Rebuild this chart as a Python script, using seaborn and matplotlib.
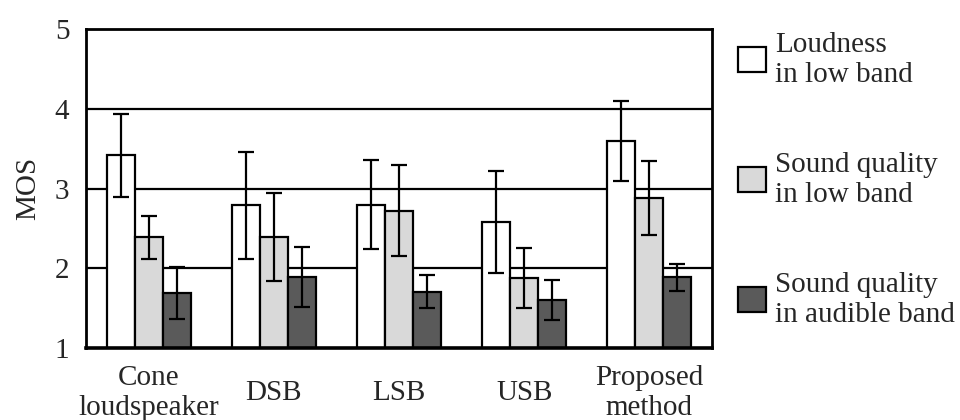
import matplotlib
matplotlib.use("Agg")
import matplotlib.pyplot as plt
import seaborn as sns
import pandas as pd
import numpy as np
from matplotlib.patches import Patch

systems = ["Cone\nloudspeaker", "DSB", "LSB", "USB", "Proposed\nmethod"]
criteria = ["Loudness\nin low band", "Sound quality\nin low band", "Sound quality\nin audible band"]

loudness_low = [3.42, 2.79, 2.80, 2.58, 3.60]
quality_low = [2.39, 2.39, 2.72, 1.88, 2.88]
quality_audible = [1.69, 1.89, 1.71, 1.60, 1.89]

loudness_low_err = [0.52, 0.67, 0.56, 0.64, 0.50]
quality_low_err = [0.27, 0.55, 0.57, 0.38, 0.46]
quality_audible_err = [0.33, 0.38, 0.21, 0.25, 0.17]

colors = ["#ffffff", "#d9d9d9", "#5a5a5a"]

means = [loudness_low, quality_low, quality_audible]
errs = [loudness_low_err, quality_low_err, quality_audible_err]

rows = []
for crit, vals in zip(criteria, means):
    for sys_name, v in zip(systems, vals):
        rows.append({"system": sys_name, "criterion": crit, "MOS": v})
df = pd.DataFrame(rows)

sns.set_style("white")
plt.rcParams["font.family"] = ["Liberation Serif", "DejaVu Serif"]
plt.rcParams["font.size"] = 21

fig = plt.figure(figsize=(9.6, 4.2), dpi=100)
ax = fig.add_axes([0.0896, 0.171, 0.652, 0.760])

for y in [2, 3, 4]:
    ax.axhline(y, color="black", lw=1.6, zorder=0)

sns.barplot(data=df, x="system", y="MOS", hue="criterion", order=systems,
            hue_order=criteria, palette=colors, edgecolor="black", linewidth=1.6,
            width=0.67, errorbar=None, legend=False, saturation=1, ax=ax, zorder=2)

bar_w = ax.patches[0].get_width()
for p in ax.patches:
    cx = p.get_x() + p.get_width() / 2
    ci = int(round(cx))
    hi = int(round((cx - ci) / bar_w)) + 1
    ax.errorbar(cx, p.get_height(), yerr=errs[hi][ci], color="black",
                lw=1.6, capsize=6, capthick=1.6, zorder=3)

ax.set_ylim(1, 5)
ax.set_yticks([1, 2, 3, 4, 5])
ax.set_xlim(-0.5, len(systems) - 0.5)
ax.set_xlabel("")
ax.set_ylabel("MOS", labelpad=10)
ax.tick_params(axis="y", length=0, pad=12)
ax.tick_params(axis="x", length=0, pad=32)
for t in ax.get_xticklabels():
    t.set_verticalalignment("center")
    t.set_linespacing(1.2)
for side in ["left", "right", "top", "bottom"]:
    ax.spines[side].set_visible(True)
    ax.spines[side].set_color("black")
    ax.spines[side].set_linewidth(2)
ax.spines["bottom"].set_linewidth(2.6)

handles = [Patch(facecolor=c, edgecolor="black", linewidth=1.6) for c in colors]
leg = fig.legend(handles, criteria, loc="upper left", bbox_to_anchor=(0.769, 0.925),
                 frameon=False, handlelength=0.95, handleheight=0.95,
                 handletextpad=0.3, labelspacing=2.2, borderaxespad=0,
                 borderpad=0)
for t in leg.get_texts():
    t.set_linespacing(1.2)

fig.savefig("out.png", dpi=100)
